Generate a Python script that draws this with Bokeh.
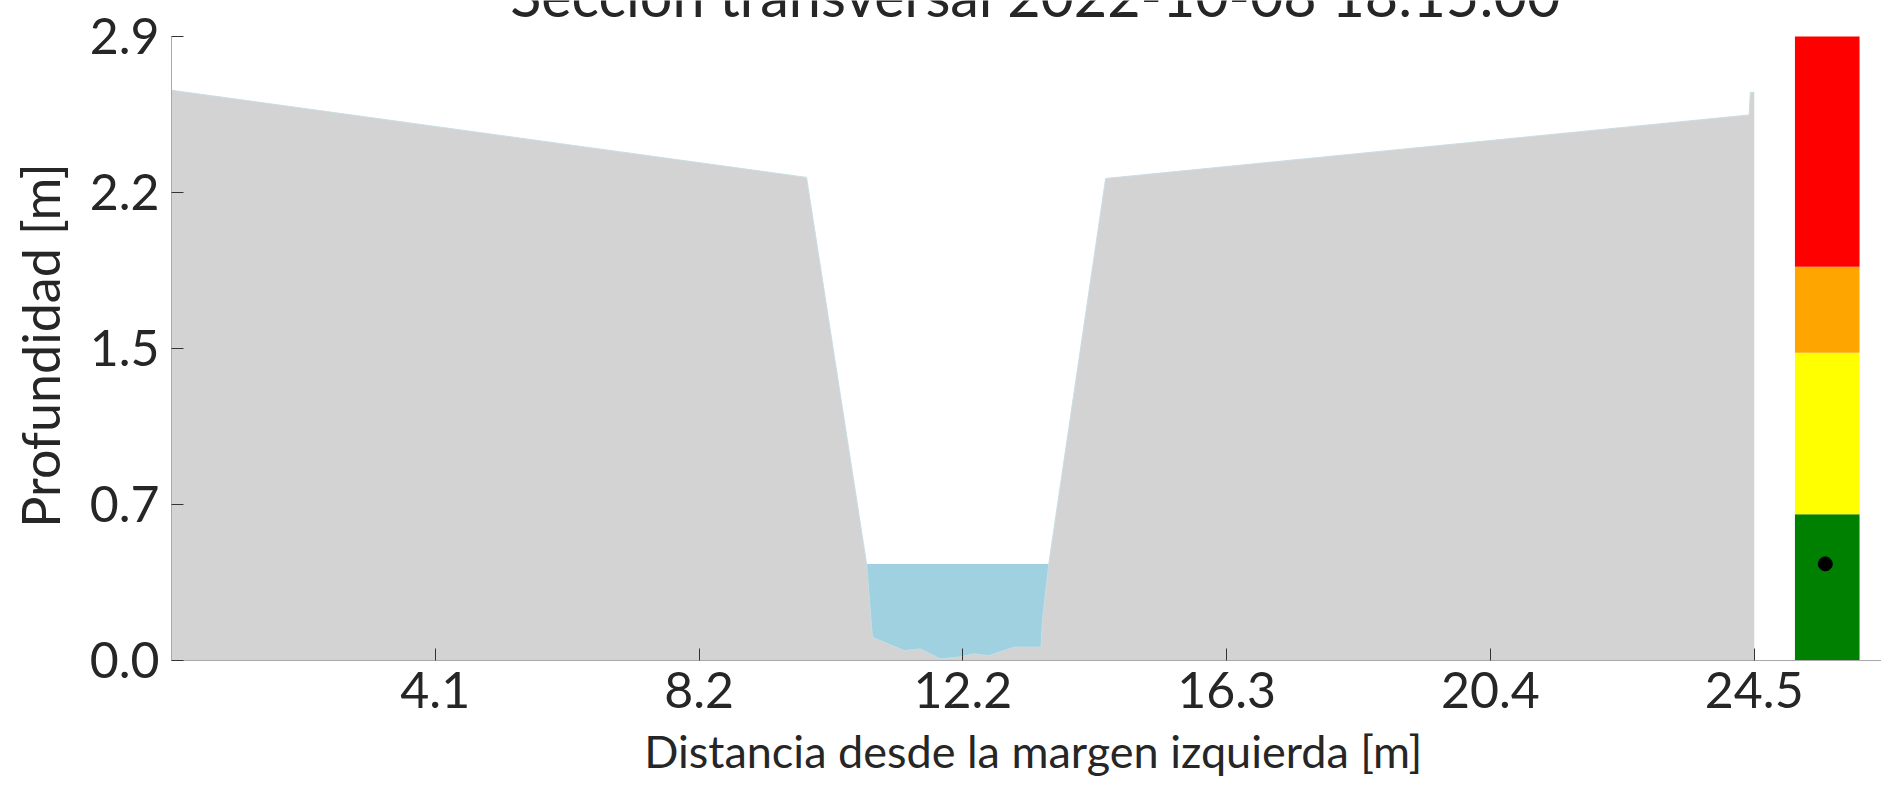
import math
from bokeh.plotting import figure
from bokeh.models import Range1d, FixedTicker, Label
from bokeh.embed import file_html
from bokeh.resources import INLINE

# ---- data ----
profile_x = [0.0, 9.83, 10.76, 10.85, 11.34, 11.59, 11.90, 12.19, 12.42, 12.65,
             13.04, 13.46, 13.48, 13.58, 14.46, 24.42, 24.44, 24.50]
profile_y = [2.65, 2.245, 0.449, 0.108, 0.046, 0.054, 0.008, 0.016, 0.031, 0.023,
             0.062, 0.062, 0.186, 0.449, 2.24, 2.535, 2.64, 2.64]
water_level = 0.449
water_x = [10.76, 13.58]
level_bottoms = [0.0, 0.68, 1.43, 1.83]
level_tops = [0.68, 1.43, 1.83, 2.9]
level_colors = ["green", "yellow", "orange", "red"]
x_ticks = [4.083, 8.167, 12.25, 16.333, 20.417, 24.5]
x_tick_labels = ["4.1", "8.2", "12.2", "16.3", "20.4", "24.5"]
y_ticks = [0.0, 0.725, 1.45, 2.175, 2.9]
y_tick_labels = ["0.0", "0.7", "1.5", "2.2", "2.9"]
title_text = "Sección transversal 2022-10-08 18:15:00"
x_label_text = "Distancia desde la margen izquierda [m]"
y_label_text = "Profundidad [m]"

FONT = "Lato"
TXT = "#262626"

# frame covers the whole canvas so the cut-off title and the axis labels can
# be drawn in it; the axes sit at x=0 / y=0 and are bounded to the data area
p = figure(width=1881, height=779, output_backend="svg", toolbar_location=None,
           x_range=Range1d(-2.647, 26.47), y_range=Range1d(-0.553, 3.067))
p.min_border_left = 0
p.min_border_right = 0
p.min_border_top = 0
p.min_border_bottom = 0
p.outline_line_color = None
p.xgrid.visible = False
p.ygrid.visible = False
p.background_fill_color = "white"

# water
p.varea(x=water_x, y1=[0, 0], y2=[water_level, water_level], fill_color="#9fd1e0")
# ground
p.varea(x=profile_x, y1=[0] * len(profile_x), y2=profile_y, fill_color="#d3d3d3")
p.line(x=profile_x, y=profile_y, line_color="#c9dde4", line_width=1)

# alert levels bar
p.quad(left=25.13, right=26.13, bottom=level_bottoms, top=level_tops,
       fill_color=level_colors, line_color=None)
p.scatter(x=[25.6], y=[water_level], size=14, color="black")

# axes
for ax in (p.xaxis[0], p.yaxis[0]):
    ax.axis_line_color = "#a8a8a8"
    ax.axis_line_width = 1
    ax.major_tick_line_color = "#333333"
    ax.major_tick_in = 12
    ax.major_tick_out = 0
    ax.minor_tick_line_color = None
    ax.major_label_text_font = FONT
    ax.major_label_text_font_size = "50px"
    ax.major_label_text_color = TXT
    ax.major_label_standoff = 12
    ax.fixed_location = 0

p.xaxis[0].ticker = FixedTicker(ticks=x_ticks)
p.xaxis[0].major_label_overrides = {t: l for t, l in zip(x_ticks, x_tick_labels)}
p.xaxis[0].bounds = (0, 26.47)
p.yaxis[0].ticker = FixedTicker(ticks=y_ticks)
p.yaxis[0].major_label_overrides = {t: l for t, l in zip(y_ticks, y_tick_labels)}
p.yaxis[0].bounds = (0, 2.9)

# axis titles
p.add_layout(Label(x=13.34, y=-0.42, text=x_label_text,
                   text_align="center", text_baseline="middle", text_font=FONT,
                   text_font_size="45px", text_color=TXT))
p.add_layout(Label(x=-2.04, y=1.464, text=y_label_text, angle=math.pi / 2,
                   text_align="center", text_baseline="middle", text_font=FONT,
                   text_font_size="52px", text_color=TXT))

# title (partly cut off at top, as in the reference)
p.add_layout(Label(x=13.37, y=3.095, text=title_text, text_align="center",
                   text_baseline="alphabetic", text_font=FONT,
                   text_font_size="57.5px", text_color=TXT))

open("out.html", "w").write(file_html(p, INLINE))
